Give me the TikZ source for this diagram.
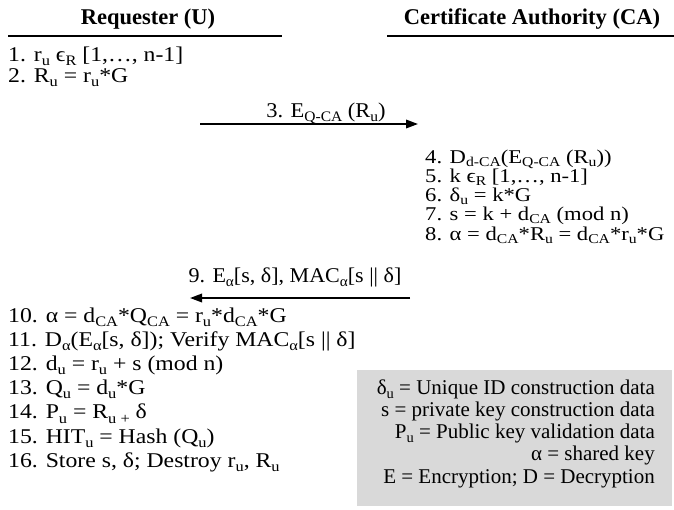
\documentclass[tikz,border=0pt]{standalone}
\usepackage{fontspec}
\setmainfont{Liberation Serif}
\newfontfamily\wideA[FakeStretch=1.13]{Liberation Serif}
\newfontfamily\wideB[FakeStretch=1.07]{Liberation Serif}
\newfontfamily\wideC[FakeStretch=1.05]{Liberation Serif}
\newfontfamily\wideD[FakeStretch=1.16]{Liberation Serif}
\usetikzlibrary{arrows.meta}
\newcommand\sbs[1]{\raisebox{-4.2pt}{\fontsize{14.5}{14.5}\selectfont #1}}
\newcommand\sbt[1]{\raisebox{-3pt}{\fontsize{13.5}{13.5}\selectfont #1}}
\definecolor{legendgray}{RGB}{217,217,217}
\begin{document}
\begin{tikzpicture}[x=1pt,y=-1pt,
 txt/.style={anchor=base west, inner sep=0pt, font=\wideA\fontsize{21}{25}\selectfont},
 catxt/.style={anchor=base west, inner sep=0pt, font=\wideD\fontsize{19.5}{23}\selectfont},
 lab3/.style={anchor=base, inner sep=0pt, font=\wideB\fontsize{21}{25}\selectfont},
 lab9/.style={anchor=base, inner sep=0pt, font=\wideC\fontsize{21}{25}\selectfont},
 rtxt/.style={anchor=base east, inner sep=0pt, font=\fontsize{21}{25}\selectfont},
 head/.style={anchor=base, inner sep=0pt, font=\fontsize{22.5}{26}\selectfont\bfseries},
 rule/.style={line width=2.5pt},
 msg/.style={line width=1.8pt, -{Triangle[length=12pt,width=8.5pt]}},
 legend/.style={fill=legendgray, draw=none}]
\useasboundingbox (0,0) rectangle (674,509);
% headers
\node[head] (hu) at (148,24) {Requester (U)};
\node[head] (hca) at (532,24) {Certificate Authority (CA)};
\coordinate (ru1) at (8,36); \coordinate (ru2) at (282,36);
\coordinate (rc1) at (387,36); \coordinate (rc2) at (674,36);
\draw[rule] (ru1) -- (ru2);
\draw[rule] (rc1) -- (rc2);
% requester steps 1-2
\node[txt] (s1) at (8,61) {1. r\sbs{u} ϵ\sbs{R} [1,…, n-1]};
\node[txt] (s2) at (8,82) {2. R\sbs{u} = r\sbs{u}*G};
% message 3
\coordinate (m3a) at (200,124); \coordinate (m3b) at (418,124);
\draw[msg] (m3a) -- (m3b);
\node[lab3] (l3) at (326,117) {3. E\sbs{Q-CA} (R\sbs{u})};
% CA steps 4-8
\node[catxt] (s4) at (425,163) {4. D\sbt{d-CA}(E\sbt{Q-CA} (R\sbt{u}))};
\node[catxt] (s5) at (425,182.3) {5. k ϵ\sbt{R} [1,…, n-1]};
\node[catxt] (s6) at (425,201.6) {6. δ\sbt{u} = k*G};
\node[catxt] (s7) at (425,220.9) {7. s = k + d\sbt{CA} (mod n)};
\node[catxt] (s8) at (425,240.2) {8. α = d\sbt{CA}*R\sbt{u} = d\sbt{CA}*r\sbt{u}*G};
% message 9
\coordinate (m9a) at (410,298); \coordinate (m9b) at (190,298);
\draw[msg] (m9a) -- (m9b);
\node[lab9] (l9) at (295,282) {9. E\sbs{α}[s, δ], MAC\sbs{α}[s || δ]};
% requester steps 10-16
\node[txt] (s10) at (8,322) {10. α = d\sbs{CA}*Q\sbs{CA} = r\sbs{u}*d\sbs{CA}*G};
\node[txt] (s11) at (8,346.2) {11. D\sbs{α}(E\sbs{α}[s, δ]); Verify MAC\sbs{α}[s || δ]};
\node[txt] (s12) at (8,370.4) {12. d\sbs{u} = r\sbs{u} + s (mod n)};
\node[txt] (s13) at (8,394.6) {13. Q\sbs{u} = d\sbs{u}*G};
\node[txt] (s14) at (8,418.8) {14. P\sbs{u} = R\sbs{u +} δ};
\node[txt] (s15) at (8,443) {15. HIT\sbs{u} = Hash (Q\sbs{u})};
\node[txt] (s16) at (8,467.2) {16. Store s, δ; Destroy r\sbs{u}, R\sbs{u}};
% legend
\fill[legend] (357,370) rectangle (672,506);
\node[rtxt] (g1) at (655,394) {δ\sbs{u} = Unique ID construction data};
\node[rtxt] (g2) at (655,416) {s = private key construction data};
\node[rtxt] (g3) at (655,438) {P\sbs{u} = Public key validation data};
\node[rtxt] (g4) at (655,460) {α = shared key};
\node[rtxt] (g5) at (655,483) {E = Encryption; D = Decryption};
\end{tikzpicture}
\end{document}
